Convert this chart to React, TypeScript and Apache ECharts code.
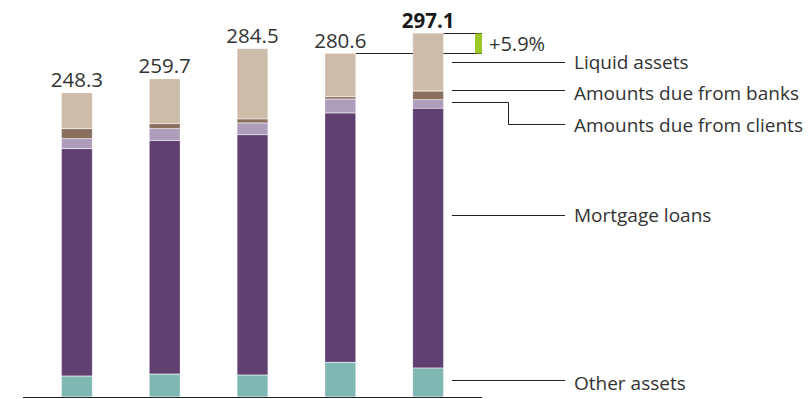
import React, { useEffect, useRef } from "react";
import * as echarts from "echarts";

const categories = ["2019", "2020", "2021", "2022", "2023"];
const totals = [248.3, 259.7, 284.5, 280.6, 297.1];
const otherAssets = [17.1, 18.7, 17.9, 28.4, 23.7];
const mortgageLoans = [185.6, 190.7, 196.1, 203.5, 212.0];
const dueFromClients = [8.2, 9.7, 9.7, 11.3, 7.0];
const dueFromBanks = [8.2, 4.1, 3.3, 1.9, 7.0];
const liquidAssets = [29.2, 36.5, 57.5, 35.5, 47.4];
const growthLabel = "+5.9%";

const FONT = "'Open Sans', 'Noto Sans', sans-serif";
const TXT = "#333333";

export default function App() {
  const ref = useRef<HTMLDivElement>(null);
  useEffect(() => {
    if (!ref.current) return;
    const chart = echarts.init(ref.current, null, { renderer: "svg" });
    const mk = (name: string, data: number[], color: string, withLabel = false) => ({
      name,
      type: "bar",
      stack: "total",
      barWidth: 31,
      data: data.map((v, i) =>
        withLabel
          ? {
              value: v,
              label: {
                show: true,
                position: "top",
                distance: 3,
                formatter: () => totals[i].toFixed(1),
                fontSize: 20.5,
                fontFamily: FONT,
                color: i === totals.length - 1 ? "#1a1a1a" : TXT,
                fontWeight: i === totals.length - 1 ? "bold" : "normal",
              },
            }
          : v
      ),
      itemStyle: { color, borderColor: "rgba(255,255,255,0.35)", borderWidth: 0.5 },
      emphasis: { disabled: true },
    });
    const option: any = {
      animation: false,
      grid: { left: 33, width: 439, top: 5, bottom: 2 },
      xAxis: {
        type: "category",
        data: categories,
        axisLine: { show: false },
        axisTick: { show: false },
        axisLabel: { show: false },
      },
      yAxis: {
        type: "value",
        min: 0,
        max: 320,
        show: false,
        splitLine: { show: false },
      },
      series: [
        mk("Other assets", otherAssets, "#7fb8b3"),
        mk("Mortgage loans", mortgageLoans, "#5f4071"),
        mk("Amounts due from clients", dueFromClients, "#ae9cbb"),
        mk("Amounts due from banks", dueFromBanks, "#8a6f5e"),
        mk("Liquid assets", liquidAssets, "#cdbca9", true),
      ],
    };
    chart.setOption(option);

    const n = totals.length;
    const p5 = chart.convertToPixel({ gridIndex: 0 }, [n - 1, totals[n - 1]]) as number[];
    const p4 = chart.convertToPixel({ gridIndex: 0 }, [n - 2, totals[n - 2]]) as number[];
    const base = chart.convertToPixel({ gridIndex: 0 }, [0, 0]) as number[];
    const y5 = Math.round(p5[1]) + 0.5;
    const y4 = Math.round(p4[1]) + 0.5;
    const bx = 482;
    const lineStyle = { stroke: "#222", lineWidth: 1 };
    const leaderX1 = 452;
    const leaderX2 = 565;
    const textX = 574;
    const labelStyle = (text: string, y: number) => ({
      type: "text",
      x: textX,
      y,
      style: { text, fill: TXT, font: `19px ${FONT}`, verticalAlign: "middle", align: "left" },
      silent: true,
    });
    const hline = (y: number) => ({
      type: "line",
      shape: { x1: leaderX1, y1: y, x2: leaderX2, y2: y },
      style: lineStyle,
      silent: true,
    });
    chart.setOption({
      graphic: [
        {
          type: "line",
          shape: { x1: 23, y1: Math.round(base[1]) + 0.5, x2: 482, y2: Math.round(base[1]) + 0.5 },
          style: { stroke: "#222", lineWidth: 1.2 },
          silent: true,
        },
        {
          type: "line",
          z: -1,
          shape: { x1: p4[0] + 15.5, y1: y4, x2: bx, y2: y4 },
          style: lineStyle,
          silent: true,
        },
        {
          type: "line",
          shape: { x1: p5[0] + 15.5, y1: y5, x2: bx, y2: y5 },
          style: lineStyle,
          silent: true,
        },
        {
          type: "rect",
          shape: { x: bx - 7, y: y5, width: 7, height: y4 - y5 },
          style: { fill: "#9bc822" },
          silent: true,
        },
        {
          type: "text",
          x: 489,
          y: (y4 + y5) / 2,
          style: { text: growthLabel, fill: TXT, font: `20px ${FONT}`, verticalAlign: "middle" },
          silent: true,
        },
        hline(62.5),
        hline(90.5),
        {
          type: "polyline",
          shape: { points: [[leaderX1, 102.5], [508.5, 102.5], [508.5, 124.5], [leaderX2, 124.5]] },
          style: { ...lineStyle, fill: null },
          silent: true,
        },
        hline(215.5),
        hline(380.5),
        labelStyle("Liquid assets", 61.5),
        labelStyle("Amounts due from banks", 93),
        labelStyle("Amounts due from clients", 124.5),
        labelStyle("Mortgage loans", 215),
        labelStyle("Other assets", 382.5),
      ],
    });
    return () => chart.dispose();
  }, []);
  return (
    <div
      ref={ref}
      style={{ position: "fixed", left: 0, top: 0, width: 808, height: 399, background: "#fff" }}
    />
  );
}
